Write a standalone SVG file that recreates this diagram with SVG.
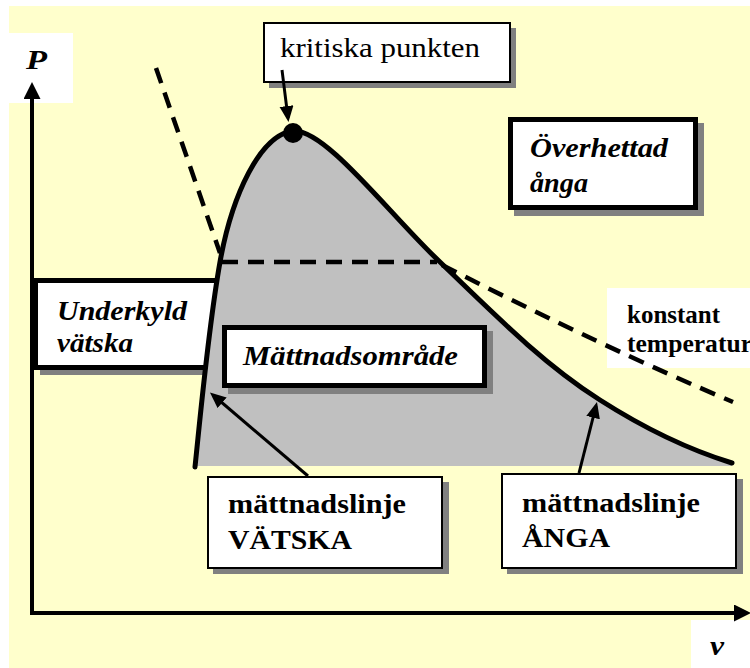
<svg xmlns="http://www.w3.org/2000/svg" width="750" height="668" viewBox="0 0 750 668">
<style>
  text { font-family: 'Liberation Serif', 'DejaVu Serif', serif; fill: #000; }
  .bi { font-weight: bold; font-style: italic; font-size: 27px; }
  .b { font-weight: bold; font-size: 27px; }
  .r { font-size: 27px; }
  .thin { fill: #fff; stroke: #000; stroke-width: 2; }
  .thick { fill: #fff; stroke: #000; stroke-width: 5; }
  .shadow { fill: #808080; }
  .curve { fill: none; stroke: #000; stroke-width: 5; stroke-linecap: round; }
  .dash { fill: none; stroke: #000; stroke-width: 4.5; stroke-dasharray: 16 10; }
  .arrow { fill: none; stroke: #000; stroke-width: 3; marker-end: url(#ah); }
  .axis { fill: none; stroke: #000; stroke-width: 4; marker-end: url(#axh); }
</style>
<defs>
  <marker id="ah" markerUnits="userSpaceOnUse" markerWidth="17" markerHeight="15" refX="12" refY="7" orient="auto">
    <path d="M0,0 L16,7 L0,14 z" fill="#000"/>
  </marker>
  <marker id="axh" markerUnits="userSpaceOnUse" markerWidth="18" markerHeight="18" refX="13" refY="8.5" orient="auto">
    <path d="M0,0 L17,8.5 L0,17 z" fill="#000"/>
  </marker>
</defs>

<rect x="9" y="6" width="741" height="662" fill="#FFFFCC"/>
<rect x="9" y="33" width="64" height="70" fill="#fff"/>
<rect x="691" y="620" width="59" height="48" fill="#fff"/>
<rect x="607" y="288" width="143" height="80" fill="#fff"/>

<g id="underkyld">
  <rect class="shadow" x="40" y="285" width="178" height="90"/>
  <rect class="thick" x="35.5" y="280.5" width="182" height="87"/>
  <text class="bi" x="57" y="320" textLength="130" lengthAdjust="spacingAndGlyphs">Underkyld</text>
  <text class="bi" x="57" y="352" textLength="76" lengthAdjust="spacingAndGlyphs">vätska</text>
</g>

<g id="dome">
  <path d="M195,467 C200,420 208,330 220,262 C232,195 260,135 293,131 C325,128 390,215 440,262 C500,320 545,365 600,400 C650,432 690,450 732,463 L732,466 L195,466 Z" fill="#C0C0C0"/>
  <path class="curve" d="M195,467 C200,420 208,330 220,262 C232,195 260,135 293,131 C325,128 390,215 440,262 C500,320 545,365 600,400 C650,432 690,450 732,463"/>
  <circle cx="293" cy="133" r="10" fill="#000"/>
</g>

<g id="isotherm">
  <path class="dash" d="M156,68 L220,253"/>
  <path class="dash" d="M222,262 L437,262"/>
  <path class="dash" d="M442,265 Q605,348 733,402"/>
</g>

<g id="axes">
  <path class="axis" d="M32,613 L32,86"/>
  <path class="axis" d="M30,613 L747,613"/>
  <text class="bi" x="26" y="69" style="font-size:28px" textLength="21" lengthAdjust="spacingAndGlyphs">P</text>
  <text class="bi" x="710" y="655" textLength="14" lengthAdjust="spacingAndGlyphs">v</text>
</g>

<g id="kritiska">
  <rect class="shadow" x="269" y="28" width="247" height="60"/>
  <rect class="thin" x="264" y="23" width="246" height="59"/>
  <text class="r" x="280" y="57" textLength="200" lengthAdjust="spacingAndGlyphs">kritiska punkten</text>
</g>

<g id="overhettad">
  <rect class="shadow" x="514" y="123" width="190" height="93"/>
  <rect class="thick" x="510.5" y="119.5" width="185" height="88"/>
  <text class="bi" x="530" y="157" textLength="138" lengthAdjust="spacingAndGlyphs">Överhettad</text>
  <text class="bi" x="530" y="192" textLength="58" lengthAdjust="spacingAndGlyphs">ånga</text>
</g>

<g id="mattnadsomrade">
  <rect class="shadow" x="228" y="331" width="265" height="63"/>
  <rect class="thick" x="224.5" y="327.5" width="260" height="58"/>
  <text class="bi" x="243" y="365" textLength="215" lengthAdjust="spacingAndGlyphs">Mättnadsområde</text>
</g>

<g id="konstant">
  <text class="b" x="627" y="323" style="font-size:25px" textLength="93" lengthAdjust="spacingAndGlyphs">konstant</text>
  <text class="b" x="627" y="352" style="font-size:25px" textLength="125" lengthAdjust="spacingAndGlyphs">temperatur</text>
</g>

<g id="vatska">
  <rect class="shadow" x="213" y="482" width="236" height="92"/>
  <rect class="thin" x="208" y="477" width="234" height="91"/>
  <text class="b" x="228" y="513" textLength="178" lengthAdjust="spacingAndGlyphs">mättnadslinje</text>
  <text class="b" x="228" y="549" textLength="124" lengthAdjust="spacingAndGlyphs">VÄTSKA</text>
</g>

<g id="anga">
  <rect class="shadow" x="507" y="479" width="236" height="95"/>
  <rect class="thin" x="502" y="474" width="234" height="94"/>
  <text class="b" x="522" y="512" textLength="178" lengthAdjust="spacingAndGlyphs">mättnadslinje</text>
  <text class="b" x="522" y="547" textLength="88" lengthAdjust="spacingAndGlyphs">ÅNGA</text>
</g>

<g id="connectors">
  <path class="arrow" d="M282,70 L288,118"/>
  <path class="arrow" d="M308,476 L213,395"/>
  <path class="arrow" d="M579,473 L596,406"/>
</g>
</svg>
